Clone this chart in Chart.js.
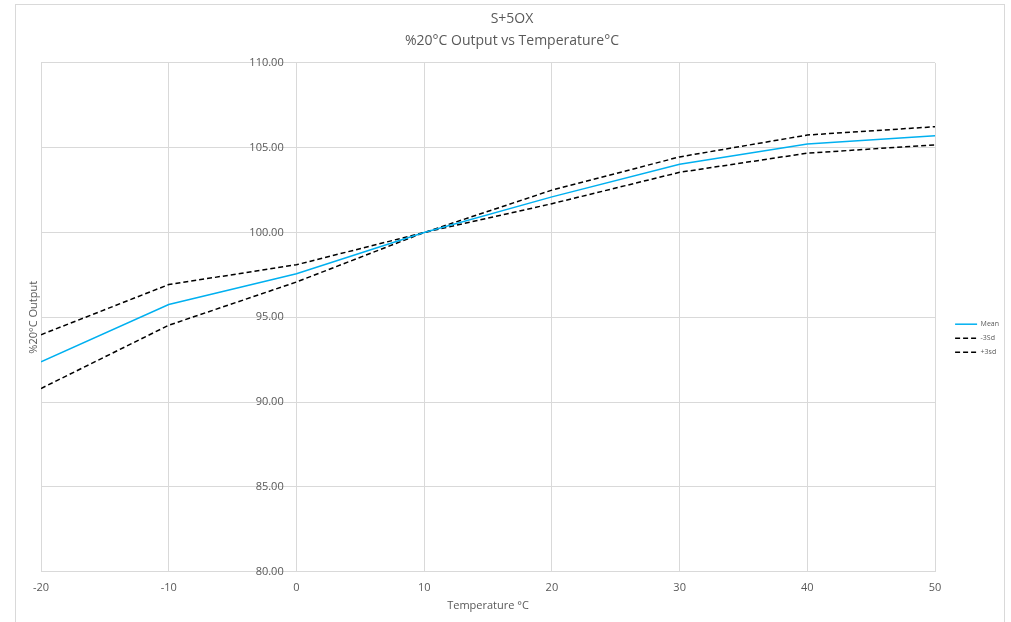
<!DOCTYPE html>
<html>
<head>
<meta charset="utf-8">
<script src="https://cdn.jsdelivr.net/npm/chart.js@4"></script>
<style>
html,body{margin:0;padding:0;background:#fff;}
#wrap{position:relative;width:1011px;height:622px;overflow:hidden;}
#frame{position:absolute;left:15px;top:4px;width:990px;height:640px;border:1px solid #d9d9d9;box-sizing:border-box;}
canvas{position:absolute;left:0;top:0;}
</style>
</head>
<body>
<div id="wrap"><div id="frame"></div><canvas id="c" width="1011" height="622"></canvas></div>
<script>
const temperatures = [-20, -10, 0, 10, 20, 30, 40, 50];
const meanValues   = [92.38, 95.75, 97.57, 100.00, 102.10, 104.03, 105.22, 105.70];
const minus3sd     = [90.80, 94.53, 97.08, 100.00, 101.70, 103.55, 104.68, 105.17];
const plus3sd      = [93.97, 96.93, 98.10, 100.00, 102.50, 104.46, 105.75, 106.24];
const seriesLabels = ['Mean', '-3Sd', '+3sd'];
const titleLines = ['S+5OX', '%20°C Output vs Temperature°C'];
const xTitle = 'Temperature °C';
const yTitle = '%20°C Output';

const pts = arr => temperatures.map((t, i) => ({x: t, y: arr[i]}));
const FONT = 'Open Sans';
const GREY = '#595959';
const GRID = '#d9d9d9';
const DASH = [5, 3];

new Chart(document.getElementById('c'), {
  type: 'line',
  data: {
    datasets: [
      {label: seriesLabels[0], data: pts(meanValues), borderColor: '#00b0f0', backgroundColor: '#00b0f0', borderWidth: 1.5, pointRadius: 0, tension: 0},
      {label: seriesLabels[1], data: pts(minus3sd), borderColor: '#000', backgroundColor: '#000', borderWidth: 1.5, borderDash: DASH, pointRadius: 0, tension: 0},
      {label: seriesLabels[2], data: pts(plus3sd), borderColor: '#000', backgroundColor: '#000', borderWidth: 1.5, borderDash: DASH, pointRadius: 0, tension: 0}
    ]
  },
  options: {
    responsive: false,
    animation: false,
    layout: {padding: {left: 15, right: 2, top: 0, bottom: 6}},
    plugins: {
      title: {display: true, text: titleLines, color: GREY, font: {family: FONT, size: 14, weight: 'normal', lineHeight: 1.57}, padding: {top: 8, bottom: 11}},
      legend: {
        position: 'right',
        title: {display: true, text: '', font: {family: FONT, size: 7}, padding: {top: 52, bottom: 0}},
        labels: {
          usePointStyle: true, pointStyle: 'line', pointStyleWidth: 22, color: GREY, font: {family: FONT, size: 7}, padding: 7,
          generateLabels: chart => Chart.defaults.plugins.legend.labels.generateLabels(chart).map(item => {
            const ds = chart.data.datasets[item.datasetIndex];
            item.lineDash = ds.borderDash || [];
            item.lineWidth = ds.borderWidth;
            item.strokeStyle = ds.borderColor;
            item.fillStyle = ds.borderColor;
            return item;
          })
        }
      },
      tooltip: {enabled: false}
    },
    scales: {
      x: {
        type: 'linear', min: -20, max: 50,
        ticks: {stepSize: 10, color: GREY, font: {family: FONT, size: 11}, padding: 10},
        grid: {color: GRID, drawTicks: false},
        border: {color: GRID},
        title: {display: true, text: xTitle, color: GREY, font: {family: FONT, size: 11}, padding: {top: -6, bottom: 4}}
      },
      y: {
        type: 'linear', min: 80, max: 110,
        position: {x: -1},
        ticks: {stepSize: 5, color: GREY, font: {family: FONT, size: 11}, callback: v => Number(v).toFixed(2)},
        grid: {color: GRID, drawTicks: false},
        border: {display: false}
      },
      yT: {
        type: 'linear', position: 'left', display: true,
        ticks: {display: false}, grid: {display: false, drawTicks: false}, border: {display: false},
        title: {display: true, text: yTitle, color: GREY, font: {family: FONT, size: 11}, padding: {top: 12, bottom: 0}},
        afterFit: s => { s.width = 26; }
      },
      yR: {
        type: 'linear', position: 'right', display: true,
        ticks: {display: false}, grid: {display: false, drawTicks: false}, border: {display: false},
        afterFit: s => { s.width = 13; }
      }
    }
  }
});
</script>
</body>
</html>
